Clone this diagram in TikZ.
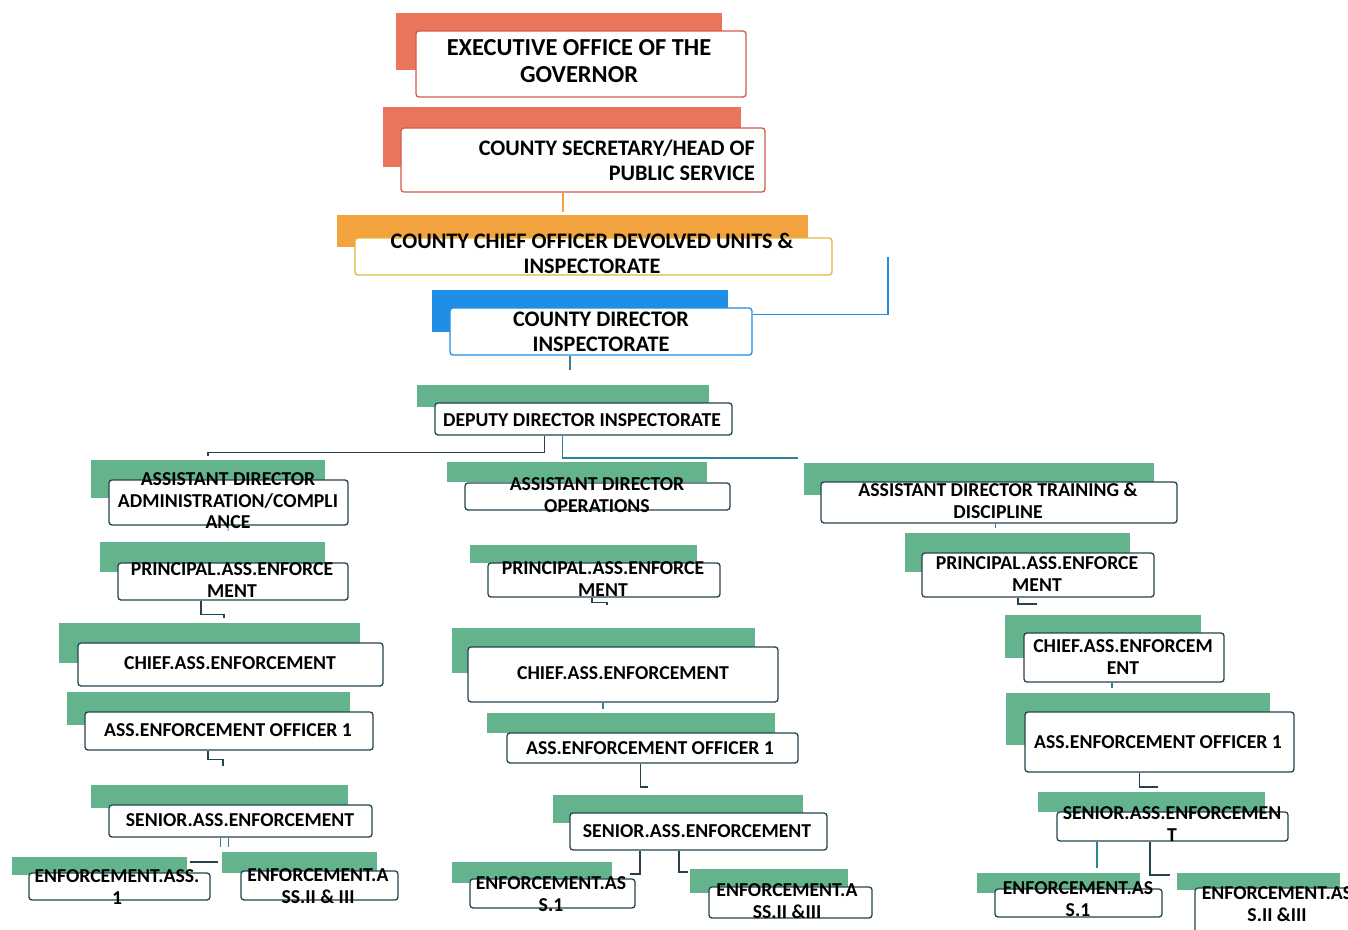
\documentclass[tikz,border=0pt]{standalone}
\usepackage{fontspec}
\setmainfont{Carlito}
\usetikzlibrary{fit,calc}
\definecolor{salmon}{HTML}{E8755C}
\definecolor{salmonline}{HTML}{D65A4C}
\definecolor{orng}{HTML}{F2A33E}
\definecolor{gold}{HTML}{E6B63C}
\definecolor{bluec}{HTML}{1F8EE4}
\definecolor{grn}{HTML}{63B48D}
\definecolor{dk}{HTML}{24434E}
\definecolor{tealc}{HTML}{2F8196}
\begin{document}
\begin{tikzpicture}[x=1pt,y=-1pt,
  bk/.style={fill=#1, draw=none, inner sep=0pt, outer sep=0pt},
  fr/.style={fill=white, draw=#1, line width=1.3pt, inner sep=0pt, rounded corners=3pt},
  big/.style={font=\bfseries\fontsize{24.4}{26.5}\selectfont, align=center, inner sep=0pt, text=black},
  mid/.style={font=\bfseries\fontsize{22.2}{25}\selectfont, align=center, inner sep=0pt, text=black},
  tx/.style={font=\bfseries\fontsize{19.7}{21.5}\selectfont, align=center, inner sep=0pt, text=black},
  cn/.style={draw=#1, line width=1.3pt},
]
\useasboundingbox (0,0) rectangle (1348,929);
\fill[white] (0,0) rectangle (1348,929);
\clip (0,0) rectangle (1348,929);

% ---------- top levels ----------
\node[bk=salmon, fit={(396,13) (722,70)}] (exec-b) {};
\node[fr=salmonline, fit={(416,31) (746,97)}] (exec) {};
\node[big] (exec-t) at (579,61) {EXECUTIVE OFFICE OF THE\\GOVERNOR};

\node[bk=salmon, fit={(383,107) (741,167)}] (sec-b) {};
\node[fr=salmonline, fit={(401,128) (765,192)}] (sec) {};
\node[mid, align=right, anchor=east] (sec-t) at (755,160) {COUNTY SECRETARY/HEAD OF\\PUBLIC SERVICE};

\node[bk=orng, fit={(337,215) (808,247)}] (cco-b) {};
\node[fr=gold, fit={(355,238) (832,275)}] (cco) {};
\node[mid] (cco-t) at (592,253) {COUNTY CHIEF OFFICER DEVOLVED UNITS \&\\INSPECTORATE};

\node[bk=bluec, fit={(432,290) (728,332)}] (dir-b) {};
\node[fr=bluec, fit={(450,308) (752,355)}] (dir) {};
\node[mid] (dir-t) at (601,332) {COUNTY DIRECTOR\\INSPECTORATE};

\node[bk=grn, fit={(417,385) (709,407)}] (dep-b) {};
\node[fr=dk, fit={(435,403) (732,435)}] (dep) {};
\node[tx] (dep-t) at (582,420) {DEPUTY DIRECTOR INSPECTORATE};

% ---------- assistant directors ----------
\node[bk=grn, fit={(91,460) (325,498)}] (adm-b) {};
\node[fr=dk, fit={(109,480) (348,525)}] (adm) {};
\node[tx] (adm-t) at (228,501) {ASSISTANT DIRECTOR\\ADMINISTRATION/COMPLI\\ANCE};

\node[bk=grn, fit={(447,462) (707,482)}] (ops-b) {};
\node[fr=dk, fit={(465,483) (730,510)}] (ops) {};
\node[tx] (ops-t) at (597,495) {ASSISTANT DIRECTOR\\OPERATIONS};

\node[bk=grn, fit={(804,463) (1154,495)}] (trn-b) {};
\node[fr=dk, fit={(821,482) (1177,523)}] (trn) {};
\node[tx] (trn-t) at (998,501) {ASSISTANT DIRECTOR TRAINING \&\\DISCIPLINE};

% ---------- principals ----------
\node[bk=grn, fit={(100,542) (325,572)}] (pL-b) {};
\node[fr=dk, fit={(118,563) (348,600)}] (pL) {};
\node[tx] (pL-t) at (232,580) {PRINCIPAL.ASS.ENFORCE\\MENT};

\node[bk=grn, fit={(470,545) (697,563)}] (pM-b) {};
\node[fr=dk, fit={(488,563) (720,597)}] (pM) {};
\node[tx] (pM-t) at (603,579) {PRINCIPAL.ASS.ENFORCE\\MENT};

\node[bk=grn, fit={(905,533) (1130,572)}] (pR-b) {};
\node[fr=dk, fit={(922,553) (1154,597)}] (pR) {};
\node[tx] (pR-t) at (1037,574) {PRINCIPAL.ASS.ENFORCE\\MENT};

% ---------- chiefs ----------
\node[bk=grn, fit={(59,623) (360,663)}] (cL-b) {};
\node[fr=dk, fit={(78,643) (383,686)}] (cL) {};
\node[tx] (cL-t) at (230,663) {CHIEF.ASS.ENFORCEMENT};

\node[bk=grn, fit={(452,628) (755,673)}] (cM-b) {};
\node[fr=dk, fit={(468,647) (778,702)}] (cM) {};
\node[tx] (cM-t) at (623,673) {CHIEF.ASS.ENFORCEMENT};

\node[bk=grn, fit={(1005,615) (1201,658)}] (cR-b) {};
\node[fr=dk, fit={(1024,633) (1224,682)}] (cR) {};
\node[tx] (cR-t) at (1123,657) {CHIEF.ASS.ENFORCEM\\ENT};

% ---------- officers 1 ----------
\node[bk=grn, fit={(67,692) (350,725)}] (oL-b) {};
\node[fr=dk, fit={(85,712) (373,750)}] (oL) {};
\node[tx] (oL-t) at (228,730) {ASS.ENFORCEMENT OFFICER 1};

\node[bk=grn, fit={(487,713) (775,733)}] (oM-b) {};
\node[fr=dk, fit={(507,733) (798,763)}] (oM) {};
\node[tx] (oM-t) at (650,748) {ASS.ENFORCEMENT OFFICER 1};

\node[bk=grn, fit={(1006,693) (1270,745)}] (oR-b) {};
\node[fr=dk, fit={(1025,712) (1294,772)}] (oR) {};
\node[tx] (oR-t) at (1158,742) {ASS.ENFORCEMENT OFFICER 1};

% ---------- seniors ----------
\node[bk=grn, fit={(91,785) (348,808)}] (sL-b) {};
\node[fr=dk, fit={(109,805) (372,837)}] (sL) {};
\node[tx] (sL-t) at (240,820) {SENIOR.ASS.ENFORCEMENT};

\node[bk=grn, fit={(553,795) (803,823)}] (sM-b) {};
\node[fr=dk, fit={(570,813) (827,850)}] (sM) {};
\node[tx] (sM-t) at (697,831) {SENIOR.ASS.ENFORCEMENT};

\node[bk=grn, fit={(1038,792) (1265,812)}] (sR-b) {};
\node[fr=dk, fit={(1057,812) (1288,841)}] (sR) {};
\node[tx] (sR-t) at (1172,824) {SENIOR.ASS.ENFORCEMEN\\T};

% ---------- enforcement assistants ----------
\node[bk=grn, fit={(12,857) (187,875)}] (eL1-b) {};
\node[fr=dk, fit={(29,873) (210,900)}] (eL1) {};
\node[tx] (eL1-t) at (117,887) {ENFORCEMENT.ASS.\\1};

\node[bk=grn, fit={(222,852) (377,873)}] (eL2-b) {};
\node[fr=dk, fit={(241,871) (398,900)}] (eL2) {};
\node[tx] (eL2-t) at (318,886) {ENFORCEMENT.A\\SS.II \& III};

\node[bk=grn, fit={(452,862) (612,883)}] (eM1-b) {};
\node[fr=dk, fit={(470,879) (635,908)}] (eM1) {};
\node[tx] (eM1-t) at (551,894) {ENFORCEMENT.AS\\S.1};

\node[bk=grn, fit={(690,869) (848,893)}] (eM2-b) {};
\node[fr=dk, fit={(709,887) (872,918)}] (eM2) {};
\node[tx] (eM2-t) at (787,901) {ENFORCEMENT.A\\SS.II \&III};

\node[bk=grn, fit={(977,873) (1140,893)}] (eR1-b) {};
\node[fr=dk, fit={(995,889) (1162,917)}] (eR1) {};
\node[tx] (eR1-t) at (1078,899) {ENFORCEMENT.AS\\S.1};

\node[bk=grn, fit={(1177,873) (1340,890)}] (eR2-b) {};
\node[fr=dk, fit={(1195,888) (1360,940)}] (eR2) {};
\node[tx] (eR2-t) at (1277,904) {ENFORCEMENT.AS\\S.II \&III};

% ---------- connectors ----------
\coordinate (k1) at (563,212);
\draw[cn=orng] (sec.south -| k1) -- (k1);
\coordinate (k2) at (888,257);
\draw[cn=bluec] (k2) |- ([yshift=-7pt]dir.north east);
\coordinate (k3) at (570,370);
\draw[cn=tealc] (dir.south -| k3) -- (k3);

\coordinate (dl) at (208,456);
\coordinate (dr) at (798,458);
\draw[cn=dk] ([xshift=-39pt]dep.south) -- ++(0,17) -| (dl);
\draw[cn=tealc] ([xshift=-21pt]dep.south) |- (dr);

\coordinate (tk1) at (228,531);
\draw[cn=tealc, line width=0.8pt] (adm.south) -- (tk1);
\coordinate (tk2) at (995,528);
\draw[cn=tealc, line width=0.8pt] (trn.south -| tk2) -- (tk2);

\coordinate (a1) at (224,618);
\draw[cn=dk] ([xshift=-32pt]pL.south) -- ++(0,14) -| (a1);
\coordinate (a2) at (607,605);
\draw[cn=dk] ([xshift=-12pt]pM.south) -- ++(0,5) -| (a2);
\coordinate (a3) at (1037,604);
\draw[cn=dk] ([xshift=-20pt]pR.south) |- (a3);

\coordinate (b2) at (603,709);
\draw[cn=tealc] (cM.south -| b2) -- (b2);
\coordinate (b3) at (1112,688);
\draw[cn=tealc] (cR.south -| b3) -- (b3);

\coordinate (d1) at (223,766);
\draw[cn=dk] ([xshift=-21pt]oL.south) -- ++(0,9) -| (d1);
\coordinate (d2) at (648,787);
\draw[cn=dk] ([xshift=-12pt]oM.south) |- (d2);
\coordinate (d3) at (1158,787);
\draw[cn=dk] ([xshift=-20pt]oR.south) |- (d3);

\coordinate (s1) at (220,847);
\coordinate (s2) at (228,847);
\draw[cn=tealc, line width=1pt] (sL.south -| s1) -- (s1);
\draw[cn=tealc, line width=1pt] (sL.south -| s2) -- (s2);
\coordinate (h1) at (218,862);
\draw[cn=dk] (eL1-b.east |- h1) ++(3,0) -- (h1);

\coordinate (m1) at (630,874);
\coordinate (m1v) at (640,0);
\draw[cn=dk] (sM.south -| m1v) |- (m1);
\coordinate (m2) at (688,872);
\coordinate (m2v) at (679,0);
\draw[cn=dk] (sM.south -| m2v) |- (m2);

\coordinate (r1) at (1097,868);
\draw[cn=tealc] (sR.south -| r1) -- (r1);
\coordinate (r2) at (1170,875);
\coordinate (r2v) at (1150,0);
\draw[cn=dk] (sR.south -| r2v) |- (r2);
\end{tikzpicture}
\end{document}
